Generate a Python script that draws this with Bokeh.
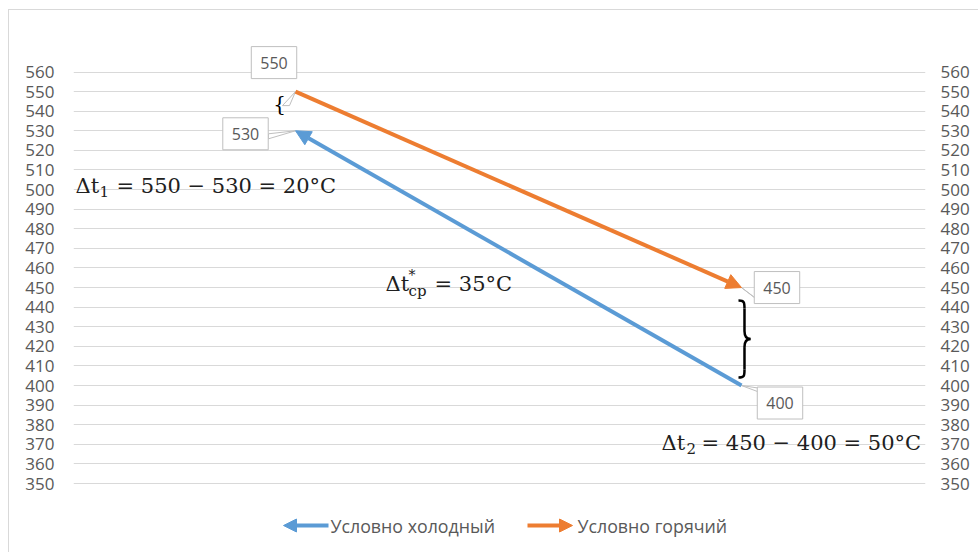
from bokeh.plotting import figure
from bokeh.models import Range1d, LinearAxis, FixedTicker, Arrow, NormalHead, Label, ColumnDataSource
from bokeh.embed import file_html
from bokeh.resources import INLINE

# ---- data ----
categories = [1, 2]
hot = [550, 450]          # Условно горячий
cold = [530, 400]         # Условно холодный
series_names = ["Условно холодный", "Условно горячий"]
y_ticks = list(range(350, 561, 10))
dt1_parts = ["Δt", "1", "= 550 − 530 = 20°C"]
dt2_parts = ["Δt", "2", "= 450 − 400 = 50°C"]
dtm_parts = ["Δt", "*", "ср", "= 35°C"]

# ---- styles / layout ----
ORANGE = "#ED7D31"
BLUE = "#5B9BD5"
GREY_TXT = "#595959"
GRID = "#d9d9d9"
MATH = "#202020"
MATH_FONT = "DejaVu Serif"
W, H = 970, 543
FL, FR = 64, 54
X0, X1 = 0.5022, 2.4126
Y0, Y1 = 314.28, 591.39
OX, OY = 9, 10  # page position of the figure content
PXX = (W - FL - FR) / (X1 - X0)
PXY = H / (Y1 - Y0)


def X(px):
    return X0 + (px - OX - FL) / PXX


def Y(py):
    return Y1 - (py - OY) / PXY


def px_x(v):
    return OX + FL + (v - X0) * PXX


def px_y(v):
    return OY + (Y1 - v) * PXY


p = figure(width=W, height=H, x_range=Range1d(X0, X1), y_range=Range1d(Y0, Y1),
           output_backend="svg", toolbar_location=None,
           x_axis_location=None, y_axis_location=None,
           min_border_left=FL, min_border_right=FR, min_border_top=0, min_border_bottom=0,
           outline_line_color=None, background_fill_color="white", border_fill_color="white",
           margin=(9, 0, 0, 8),
           styles={"border-left": "1px solid #d9d9d9", "border-top": "1px solid #d9d9d9"})
p.xgrid.visible = False
p.ygrid.ticker = FixedTicker(ticks=y_ticks)
p.ygrid.grid_line_color = GRID
p.ygrid.grid_line_width = 1

for side, standoff in (("left", 19), ("right", 15)):
    ax = LinearAxis(ticker=FixedTicker(ticks=y_ticks))
    ax.axis_line_color = None
    ax.major_tick_line_color = None
    ax.minor_tick_line_color = None
    ax.major_tick_out = 0
    ax.major_tick_in = 0
    ax.minor_tick_out = 0
    ax.major_label_standoff = standoff
    ax.major_label_text_font = "Open Sans"
    ax.major_label_text_font_size = "17px"
    ax.major_label_text_color = GREY_TXT
    p.add_layout(ax, side)

# ---- callout pointers for data labels (drawn under labels) ----
pts = [(categories[0], hot[0]), (categories[0], cold[0]), (categories[1], hot[1]), (categories[1], cold[1])]
lab_off = [(-21.5, 29), (-50, -3), (35.5, 0), (38.5, -17.5)]
ptr_base = [((-13, -14), (-6, -14)), ((-27, -8), (-27, -3)), ((12, -9), (18, -14)), ((16, -6), (20, -3))]
pxs, pys = [], []
for (cx, cy), (b1, b2) in zip(pts, ptr_base):
    sx, sy = px_x(cx), px_y(cy)
    pxs.append([X(sx + b1[0]), X(sx + b2[0]), cx])
    pys.append([Y(sy - b1[1]), Y(sy - b2[1]), cy])
p.patches(pxs, pys, fill_color="white", line_color="#bfbfbf", line_width=1)

# ---- series arrows ----
hot_src = ColumnDataSource(dict(x0=[categories[0]], y0=[hot[0]], x1=[categories[1]], y1=[hot[1]]))
cold_src = ColumnDataSource(dict(x0=[categories[1]], y0=[cold[1]], x1=[categories[0]], y1=[cold[0]]))
for src, col in ((cold_src, BLUE), (hot_src, ORANGE)):
    p.add_layout(Arrow(end=NormalHead(size=15, fill_color=col, line_color=col, line_width=1),
                       x_start="x0", y_start="y0", x_end="x1", y_end="y1", source=src,
                       line_color=col, line_width=4))

# ---- data labels ----
for (cx, cy), (ox, oy) in zip(pts, lab_off):
    p.add_layout(Label(x=cx, y=cy, x_offset=ox, y_offset=oy, text=str(cy),
                       text_align="center", text_baseline="middle",
                       text_font="Open Sans", text_font_size="16px", text_color=GREY_TXT,
                       background_fill_color="white", border_line_color="#bfbfbf",
                       padding=(9, 10)))

# ---- braces ----
p.add_layout(Label(x=X(px_x(categories[0]) - 16), y=Y(px_y(hot[0]) + 12), text="{",
                   text_align="center", text_baseline="middle",
                   text_font="DejaVu Serif", text_font_size="20px", text_color="black"))
top = px_y(hot[1]) + 13
bot = px_y(cold[1]) - 8
mid = (top + bot) / 2
xl = px_x(categories[1]) - 3
xm = xl + 6
xr = xl + 12
curves = [
    ((xl, top), (xm, top + 8), (xm, top), (xm, top + 2)),
    ((xm, top + 8), (xm, mid - 8), (xm, top + 10), (xm, mid - 10)),
    ((xm, mid - 8), (xr, mid), (xm, mid - 2), (xm + 3, mid)),
    ((xr, mid), (xm, mid + 8), (xm + 3, mid), (xm, mid + 2)),
    ((xm, mid + 8), (xm, bot - 8), (xm, mid + 10), (xm, bot - 10)),
    ((xm, bot - 8), (xl, bot), (xm, bot - 2), (xm, bot)),
]
p.bezier(x0=[X(c[0][0]) for c in curves], y0=[Y(c[0][1]) for c in curves],
         x1=[X(c[1][0]) for c in curves], y1=[Y(c[1][1]) for c in curves],
         cx0=[X(c[2][0]) for c in curves], cy0=[Y(c[2][1]) for c in curves],
         cx1=[X(c[3][0]) for c in curves], cy1=[Y(c[3][1]) for c in curves],
         line_color="black", line_width=2.5)


# ---- formula texts ----
def txt(px, py, s, size):
    p.add_layout(Label(x=X(px), y=Y(py), text=s, text_align="left", text_baseline="alphabetic",
                       text_font=MATH_FONT, text_font_size=size, text_color=MATH))


txt(75, 185, dt1_parts[0], "21px")
txt(99, 191, dt1_parts[1], "15px")
txt(116, 185, dt1_parts[2], "21px")

txt(661, 442, dt2_parts[0], "21px")
txt(686, 448, dt2_parts[1], "15px")
txt(701, 442, dt2_parts[2], "21px")

txt(385, 283, dtm_parts[0], "21px")
txt(408, 274, dtm_parts[1], "14px")
txt(408, 290, dtm_parts[2], "15px")
txt(434, 283, dtm_parts[3], "21px")

# ---- legend ----
ly = Y(525)
leg_cold = ColumnDataSource(dict(x0=[X(328)], y0=[ly], x1=[X(283)], y1=[ly]))
leg_hot = ColumnDataSource(dict(x0=[X(527)], y0=[ly], x1=[X(572)], y1=[ly]))
for src, col in ((leg_cold, BLUE), (leg_hot, ORANGE)):
    p.add_layout(Arrow(end=NormalHead(size=13, fill_color=col, line_color=col, line_width=1),
                       x_start="x0", y_start="y0", x_end="x1", y_end="y1", source=src,
                       line_color=col, line_width=4))
for lx, name in ((330, series_names[0]), (577, series_names[1])):
    p.add_layout(Label(x=X(lx), y=ly, text=name, text_align="left", text_baseline="middle",
                       text_font="Open Sans", text_font_size="17.8px", text_color=GREY_TXT))

open("out.html", "w").write(file_html(p, INLINE))
